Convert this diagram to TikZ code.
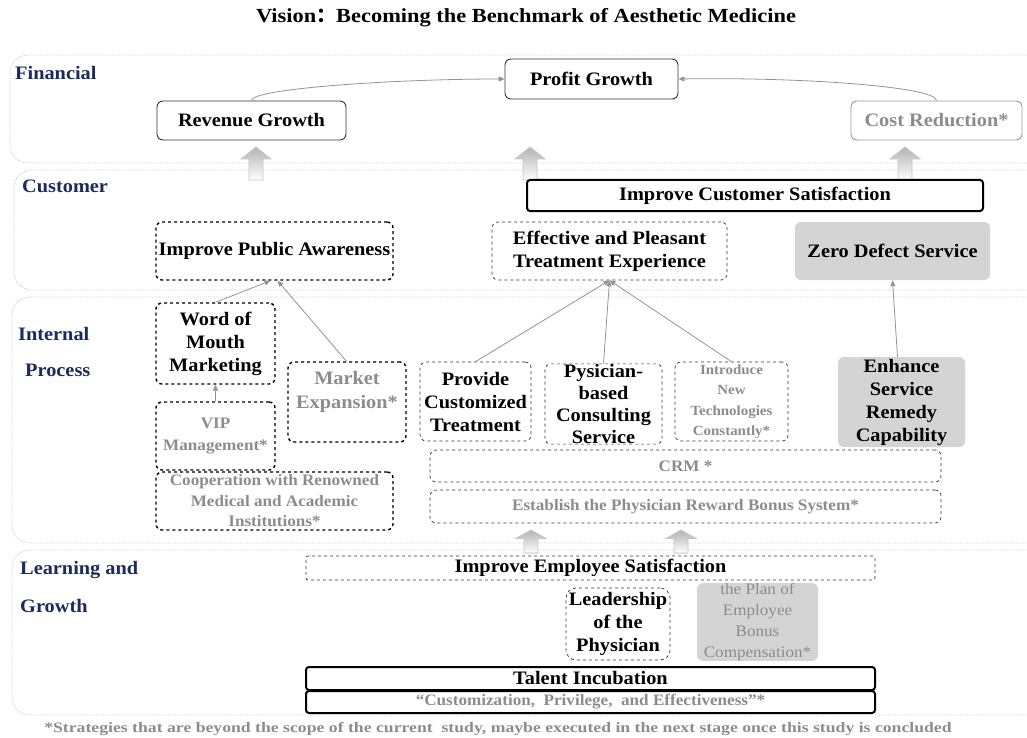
\documentclass[tikz,border=0pt]{standalone}
\usepackage{fontspec}
\setmainfont{Liberation Serif}[FakeStretch=1.07]
\newfontfamily\titlefont{Liberation Serif}[FakeStretch=1.12]
\newfontfamily\widefont{Liberation Serif}[FakeStretch=1.22]
\newfontfamily\cjkfont{Noto Sans CJK SC}
\usetikzlibrary{arrows.meta}
\definecolor{lanenavy}{RGB}{28,42,92}
\definecolor{dimtxt}{RGB}{140,140,140}
\definecolor{boxfill}{RGB}{212,212,212}
\definecolor{laneline}{RGB}{200,200,200}
\newcommand{\fsz}[2]{\fontsize{#1}{#2}\selectfont}

\begin{document}
\begin{tikzpicture}[x=1pt,y=-1pt,
  lane/.style={draw=laneline,densely dotted,rounded corners=18pt,line width=0.8pt},
  lanename/.style={text=lanenavy,font=\fsz{19}{23}\bfseries,anchor=west,inner sep=0pt},
  box/.style={rounded corners=6pt,align=center,inner sep=0pt,font=\fsz{19}{23}\bfseries},
  solidbox/.style={box,draw=black!80,line width=0.9pt},
  heavybox/.style={box,draw=black,line width=2pt,rounded corners=3pt},
  dashbox/.style={box,draw=black,dashed,line width=1.4pt},
  thindash/.style={box,draw=black!80,dashed,line width=0.7pt},
  greybox/.style={box,fill=boxfill},
  dim/.style={text=dimtxt},
  link/.style={draw=gray!85,line width=0.8pt,-{Triangle[length=6pt,width=5pt]}},
  hollowup/.pic={\draw[draw=gray!45,line width=0.8pt,top color=gray!60,bottom color=white]
      (0,0) -- (15,12) -- (7,12) -- (7,33) -- (-7,33) -- (-7,12) -- (-15,12) -- cycle;}]
  \useasboundingbox (0,0) rectangle (1027,738);

  % lanes
  \draw[lane] (10,55) rectangle (1045,163);
  \draw[lane] (14,170) rectangle (1045,290);
  \draw[lane] (12,297) rectangle (1045,543);
  \draw[lane] (12,550) rectangle (1045,715);
  \node[lanename] (lfin) at (15,73) {Financial};
  \node[lanename] (lcus) at (22,186) {Customer};
  \node[lanename] (lint) at (18,334) {Internal};
  \node[lanename] (lpro) at (25,370) {Process};
  \node[lanename] (llea) at (20,570) {Learning and};
  \node[lanename] (lgro) at (20,606) {Growth};

  \node[font=\titlefont\fsz{20}{24}\bfseries] (title) at (526,18)
    {Vision{\cjkfont ：}Becoming the Benchmark of Aesthetic Medicine};

  % financial
  \node[solidbox,minimum width=173,minimum height=40] (profit) at (591.5,79) {Profit Growth};
  \node[solidbox,minimum width=189,minimum height=39] (rev) at (251.5,120.5) {Revenue Growth};
  \node[box,draw=gray!80,line width=0.9pt,dim,minimum width=171,minimum height=39] (cost) at (936.5,120.5) {Cost Reduction*};
  \draw[link] (rev.north) .. controls +(0,-12) and +(-110,0) .. (profit.west);
  \draw[link] (cost.north) .. controls +(0,-14) and +(120,-2) .. (profit.east);
  \pic at (256,147) {hollowup};
  \pic at (530,147) {hollowup};
  \pic at (905,147) {hollowup};

  % customer
  \node[heavybox,minimum width=456,minimum height=31] (custsat) at (755,195.5) {Improve Customer Satisfaction};
  \node[dashbox,minimum width=237,minimum height=58] (pubaware) at (274.5,251) {Improve Public Awareness};
  \node[thindash,minimum width=235,minimum height=58] (effect) at (609.5,251) {Effective and Pleasant\\Treatment Experience};
  \node[greybox,minimum width=195,minimum height=58] (zerodef) at (892.5,251) {Zero Defect Service};

  % internal process
  \node[dashbox,minimum width=119,minimum height=81] (wom) at (215.5,343.5) {Word of\\Mouth\\Marketing};
  \node[dashbox,dim,font=\fsz{16}{22}\bfseries,minimum width=119,minimum height=68] (vip) at (215.5,436) {VIP\\Management*};
  \node[dashbox,dim,font=\fsz{19}{24}\bfseries,minimum width=118,minimum height=80] (market) at (347,402) {Market\\Expansion*\\\mbox{}};
  \node[dashbox,dim,font=\fsz{16}{20.5}\bfseries,minimum width=237,minimum height=58] (coop) at (274.5,501) {Cooperation with Renowned\\Medical and Academic\\Institutions*};
  \node[thindash,minimum width=111,minimum height=79] (provide) at (475.5,401.5) {Provide\\Customized\\Treatment};
  \node[thindash,font=\fsz{19}{22.3}\bfseries,minimum width=117,minimum height=79] (psycons) at (603.5,404) {Pysician-\\based\\Consulting\\Service};
  \node[thindash,dim,font=\fsz{14}{20.5}\bfseries,minimum width=113,minimum height=79] (introtech) at (731.5,401.5) {Introduce\\New\\Technologies\\Constantly*};
  \node[greybox,minimum width=127,minimum height=90] (enhance) at (901.5,402) {Enhance\\Service\\Remedy\\Capability};
  \node[thindash,dim,font=\fsz{16}{20}\bfseries,minimum width=511,minimum height=32] (crm) at (685.5,466) {CRM *};
  \node[thindash,dim,font=\fsz{16}{20}\bfseries,minimum width=511,minimum height=33] (reward) at (685.5,506.5) {Establish the Physician Reward Bonus System*};
  \draw[link] (wom.north) -- ([xshift=-4]pubaware.south);
  \draw[link] ([xshift=-0.5]market.north) -- ([xshift=3]pubaware.south);
  \draw[link] (vip.north) -- (wom.south);
  \draw[link] (provide.north) -- (effect.south);
  \draw[link] (psycons.north) -- (effect.south);
  \draw[link] (introtech.north) -- (effect.south);
  \draw[link] ([xshift=-4]enhance.north) -- (zerodef.south);
  \pic[yscale=0.7] at (531,530) {hollowup};
  \pic[yscale=0.7] at (681,530) {hollowup};

  % learning and growth
  \node[thindash,rounded corners=2pt,minimum width=569,minimum height=24] (empsat) at (590.5,568) {Improve Employee Satisfaction};
  \node[thindash,rounded corners=10pt,minimum width=104,minimum height=72] (leader) at (618,624) {Leadership\\of the\\Physician};
  \node[greybox,dim,font=\fsz{16}{21},minimum width=121,minimum height=76] (bonus) at (757.5,622) {the Plan of\\Employee\\Bonus\\Compensation*};
  \node[heavybox,minimum width=569,minimum height=23] (talent) at (590.5,678.5) {Talent Incubation};
  \node[heavybox,dim,font=\fsz{16}{20}\bfseries,minimum width=569,minimum height=22] (cpe) at (590.5,702) {``Customization,\ \ Privilege,\ \ and Effectiveness''*};

  \node[dim,font=\widefont\fsz{14.5}{20}\bfseries] (note) at (498,729) {*Strategies that are beyond the scope of the current\ \ study, maybe executed in the next stage once this study is concluded};
\end{tikzpicture}
\end{document}
